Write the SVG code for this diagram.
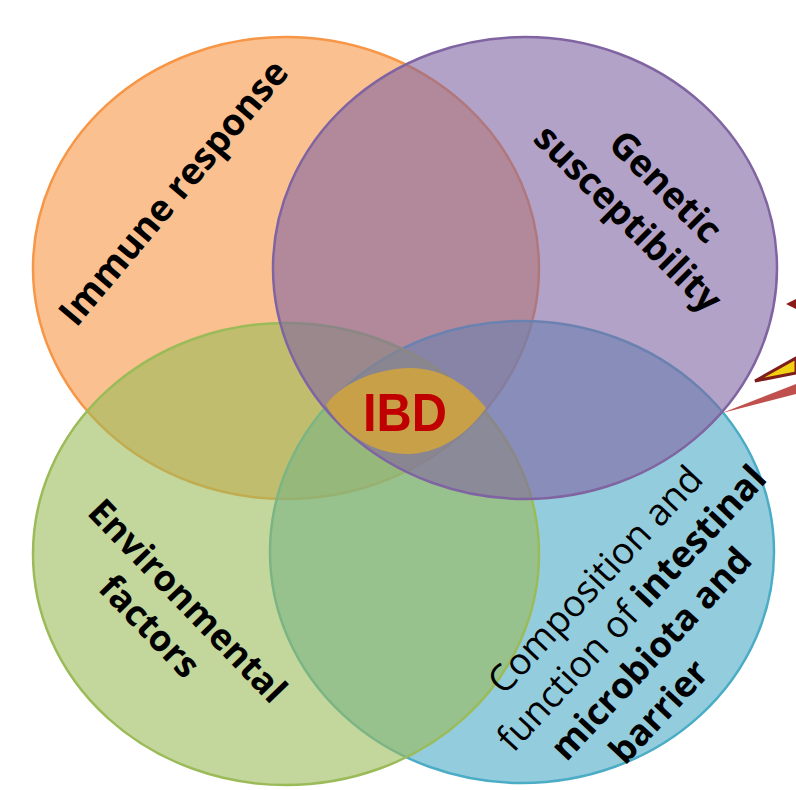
<svg xmlns="http://www.w3.org/2000/svg" width="796" height="790" viewBox="0 0 796 790">
<style>
.c{stroke-width:2.5}
.t{font-family:"Open Sans","Liberation Sans",sans-serif;fill:#000;text-anchor:middle}
.b{font-weight:bold;font-size:36px}
.r{font-weight:normal}
</style>
<rect width="796" height="790" fill="#fff"/>
<g id="arrows">
<polygon points="722,413 796,384 796,394" fill="#c0504d"/>
<polygon points="755,381 796,358 796,373" fill="#f0d010" stroke="#7f1d1d" stroke-width="3" stroke-linejoin="miter"/>
<polygon points="786,304 796,299 796,309" fill="#8b1a1a"/>
</g>
<g id="immune"><ellipse cx="286" cy="268" rx="253" ry="231" fill="#f79646" fill-opacity="0.6" stroke="#f79646" class="c"/></g>
<g id="microbiota"><ellipse cx="522" cy="552" rx="252" ry="231" fill="#4bacc6" fill-opacity="0.6" stroke="#4bacc6" class="c"/></g>
<g id="environment"><ellipse cx="286" cy="554" rx="253" ry="231" fill="#9bbb59" fill-opacity="0.6" stroke="#9bbb59" class="c"/></g>
<g id="genetic"><ellipse cx="525" cy="268" rx="252" ry="231" fill="#8064a2" fill-opacity="0.6" stroke="#8064a2" class="c"/></g>
<g id="ibd">
<path d="M326,405 C340,385 372,369 410,368 C445,368 470,388 486,408 C470,430 445,452 410,454 C372,455 342,432 326,405 Z" fill="#d4a53a" fill-opacity="0.85"/>
<text x="405" y="431" font-family="'Liberation Sans',Arial,sans-serif" font-weight="bold" font-size="54" fill="#c00000" text-anchor="middle" textLength="84" lengthAdjust="spacingAndGlyphs">IBD</text>
</g>
<g id="labels">
<text class="t b" transform="translate(174,193) rotate(-50)" y="12" style="font-size:37px">Immune response</text>
<g transform="translate(646,202) rotate(45)">
<text class="t b" x="3" y="-12" style="font-size:37px">Genetic</text>
<text class="t b" x="-1" y="37" style="font-size:37px">susceptibility</text>
</g>
<g transform="translate(170,615) rotate(46)">
<text class="t b" x="2" y="-10">Environmental</text>
<text class="t b" x="-6" y="35">factors</text>
</g>
<g transform="translate(630,630) rotate(-47)" class="t" style="font-size:37px">
<text class="t r" x="13" y="-47" style="font-size:37px">Composition and</text>
<text class="t" x="17" y="-1" style="font-size:37px"><tspan class="r">function of </tspan><tspan font-weight="bold">intestinal</tspan></text>
<text class="t" x="-3" y="44" font-weight="bold" style="font-size:36px">microbiota and</text>
<text class="t" x="-40" y="89" font-weight="bold" style="font-size:36px">barrier</text>
</g>
</g>
</svg>
